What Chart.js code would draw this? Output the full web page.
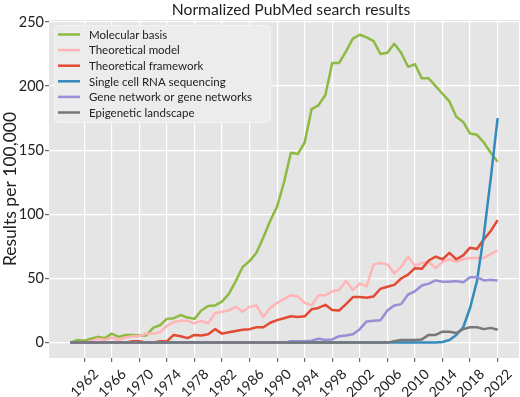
<!DOCTYPE html>
<html>
<head>
<meta charset="utf-8">
<script src="https://cdn.jsdelivr.net/npm/chart.js@4.4.1/dist/chart.umd.min.js"></script>
<style>
  html, body { margin: 0; padding: 0; background: #fff; }
</style>
</head>
<body>
<canvas id="pubmedChart" width="520" height="397"></canvas>
<script>
// years on the x axis
const years = [
  1960, 1961, 1962, 1963, 1964, 1965, 1966, 1967, 1968, 1969,
  1970, 1971, 1972, 1973, 1974, 1975, 1976, 1977, 1978, 1979,
  1980, 1981, 1982, 1983, 1984, 1985, 1986, 1987, 1988, 1989,
  1990, 1991, 1992, 1993, 1994, 1995, 1996, 1997, 1998, 1999,
  2000, 2001, 2002, 2003, 2004, 2005, 2006, 2007, 2008, 2009,
  2010, 2011, 2012, 2013, 2014, 2015, 2016, 2017, 2018, 2019,
  2020, 2021, 2022
];

// results per 100,000
const molecularBasis = [
  0, 2, 1.5, 3, 4.5, 3.5, 7, 4.5, 6, 6,
  5.5, 5.5, 11.5, 13.5, 18.5, 19, 21.5, 19.5, 18.5, 25,
  28.5, 29, 32, 38, 48, 59, 63.5, 70, 82, 95,
  106, 125, 148, 147, 156, 182, 185, 193, 218, 218,
  227, 237, 240, 238, 235, 225, 226, 233, 226, 215,
  217, 206, 206, 200, 194, 188, 176, 172, 163, 162,
  156, 148, 141
];
const theoreticalModel = [
  0, 0, 0, 1, 3, 2, 4, 2, 4, 5,
  5, 7, 7, 8, 13, 16, 17, 17, 15, 17,
  15, 23, 24, 25, 28, 24, 28, 29, 20, 27,
  31, 34, 37, 36, 31, 29, 37, 37, 40, 41,
  48, 41, 46, 44, 61, 62, 61, 54, 59, 67,
  60, 62, 63, 58, 63, 65, 63, 65, 66, 66,
  66, 69, 72
];
const theoreticalFramework = [
  0, 0, 0, 0, 0, 0, 0, 0, 0, 1,
  1, 0, 0, 1, 1, 6, 5, 3.5, 6, 5.5,
  6.5, 10.5, 7, 8, 9, 10, 10.5, 12, 12, 15.5,
  17.5, 19, 20.5, 20, 20.5, 26, 27, 29.5, 25.5, 25,
  30, 35.5, 35.5, 35, 36, 42, 43.5, 45, 50, 53,
  58, 57.5, 64, 67, 65, 70, 65, 68, 74, 73,
  80.5, 87, 95.5
];
const singleCellRna = [
  0, 0, 0, 0, 0, 0, 0, 0, 0, 0,
  0, 0, 0, 0, 0, 0, 0, 0, 0, 0,
  0, 0, 0, 0, 0, 0, 0, 0, 0, 0,
  0, 0, 0, 0, 0, 0, 0, 0, 0, 0,
  0, 0, 0, 0, 0, 0, 0, 0, 0, 0,
  0, 0, 0, 0, 0.5, 2, 6, 12, 27, 48,
  84, 128, 175
];
const geneNetwork = [
  0, 0, 0, 0, 0, 0, 0, 0, 0, 0,
  0, 0, 0, 0, 0, 0, 0, 0, 0, 0,
  0, 0, 0, 0, 0, 0, 0, 0, 0, 0,
  0, 0, 1, 1, 1, 1.5, 3, 2, 2.5, 5,
  5.5, 6.5, 10.5, 16.5, 17, 17.5, 25, 29, 30, 37.5,
  40, 44.5, 46, 48.5, 47.5, 47.5, 48, 47, 51, 51,
  48.5, 49, 48.5
];
const epigeneticLandscape = [
  0, 0, 0, 0, 0, 0, 0, 0, 0, 0,
  0, 0, 0, 0, 0, 0, 0, 0, 0, 0,
  0, 0, 0, 0, 0, 0, 0, 0, 0, 0,
  0, 0, 0, 0, 0, 0, 0, 0, 0, 0,
  0, 0, 0, 0, 0, 0, 0, 1, 2, 2,
  2, 2.5, 6, 6, 8.5, 8.5, 7.5, 10.5, 12, 12,
  10.5, 11.5, 10
];

const seriesNames = [
  'Molecular basis',
  'Theoretical model',
  'Theoretical framework',
  'Single cell RNA sequencing',
  'Gene network or gene networks',
  'Epigenetic landscape'
];
const seriesValues = [
  molecularBasis, theoreticalModel, theoreticalFramework,
  singleCellRna, geneNetwork, epigeneticLandscape
];
const seriesColors = ['#8EBA42', '#FFB5B8', '#E24A33', '#348ABD', '#988ED5', '#777777'];

const xTicks = [1962, 1966, 1970, 1974, 1978, 1982, 1986, 1990, 1994, 1998, 2002, 2006, 2010, 2014, 2018, 2022];
const yTicks = [0, 50, 100, 150, 200, 250];

const chartTitle = 'Normalized PubMed search results';
const FONT = 'Lato, "Noto Sans", sans-serif';

// grey ggplot-style panel behind the lines, plus the title above it
const panelBackground = {
  id: 'panelBackground',
  beforeDraw(chart) {
    const { ctx, chartArea: a } = chart;
    ctx.save();
    ctx.fillStyle = '#E5E5E5';
    ctx.fillRect(a.left, a.top, a.right - a.left, a.bottom - a.top);
    ctx.fillStyle = '#222';
    ctx.font = '15.7px ' + FONT;
    ctx.textAlign = 'center';
    ctx.textBaseline = 'middle';
    ctx.fillText(chartTitle, 291, 10);
    ctx.restore();
  }
};

// legend box sitting inside the top-left of the plot
const insideLegend = {
  id: 'insideLegend',
  afterDatasetsDraw(chart) {
    const { ctx, chartArea: a } = chart;
    const x0 = a.left + 5;
    const y0 = a.top + 5;
    const rowH = 15.6;
    const boxW = 216;
    const boxH = 97;
    ctx.save();
    ctx.fillStyle = 'rgba(236,236,236,0.95)';
    ctx.strokeStyle = '#F2F2F2';
    ctx.lineWidth = 1;
    ctx.beginPath();
    ctx.roundRect(x0 + 0.5, y0 + 0.5, boxW, boxH, 3);
    ctx.fill();
    ctx.stroke();
    ctx.font = '11.5px ' + FONT;
    ctx.textBaseline = 'middle';
    ctx.fillStyle = '#222';
    chart.data.datasets.forEach((ds, i) => {
      const yy = y0 + 9.5 + i * rowH;
      ctx.strokeStyle = ds.borderColor;
      ctx.lineWidth = 2.5;
      ctx.beginPath();
      ctx.moveTo(x0 + 4, yy);
      ctx.lineTo(x0 + 26, yy);
      ctx.stroke();
      ctx.fillText(ds.label, x0 + 35, yy + 0.5);
    });
    ctx.restore();
  }
};

const canvas = document.getElementById('pubmedChart');
const ctx = canvas.getContext('2d');

new Chart(ctx, {
  type: 'line',
  data: {
    datasets: seriesNames.map((name, i) => ({
      label: name,
      data: years.map((yr, j) => ({ x: yr, y: seriesValues[i][j] })),
      borderColor: seriesColors[i],
      backgroundColor: seriesColors[i],
      borderWidth: 2.5,
      pointRadius: 0,
      tension: 0,
      borderJoinStyle: 'round',
      // later series drawn on top, like matplotlib
      order: seriesNames.length - i
    }))
  },
  options: {
    responsive: false,
    devicePixelRatio: 1,
    animation: false,
    layout: { padding: { left: 0, right: 1, top: 20, bottom: 0 } },
    plugins: {
      legend: { display: false },
      tooltip: { enabled: false },
      title: { display: false }
    },
    scales: {
      x: {
        type: 'linear',
        min: 1956.9,
        max: 2025.1,
        afterBuildTicks: (scale) => { scale.ticks = xTicks.map((v) => ({ value: v })); },
        afterFit: (scale) => { scale.height = 39; },
        border: { display: false },
        grid: { color: '#FFFFFF', lineWidth: 1.2, tickColor: '#666', tickLength: 4 },
        ticks: {
          color: '#222',
          font: { family: FONT, size: 14 },
          minRotation: 45,
          maxRotation: 45,
          labelOffset: 12,
          padding: 4,
          callback: (value) => String(value)
        }
      },
      y: {
        min: -12,
        max: 251.5,
        afterBuildTicks: (scale) => { scale.ticks = yTicks.map((v) => ({ value: v })); },
        afterFit: (scale) => { scale.width = 49; },
        border: { display: false },
        grid: { color: '#FFFFFF', lineWidth: 1.2, tickColor: '#666', tickLength: 4 },
        ticks: {
          color: '#222',
          font: { family: FONT, size: 14.5 },
          padding: 1
        },
        title: {
          display: true,
          text: 'Results per 100,000',
          color: '#222',
          font: { family: FONT, size: 17.5 },
          padding: { top: 0, bottom: 0 }
        }
      }
    }
  },
  plugins: [panelBackground, insideLegend]
});
</script>
</body>
</html>
